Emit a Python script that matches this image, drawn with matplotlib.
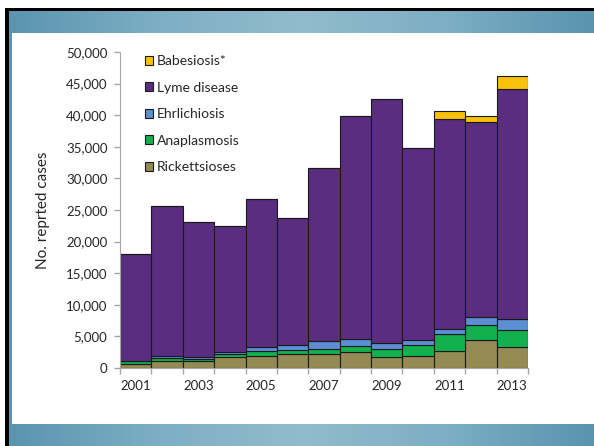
import numpy as np
import matplotlib
matplotlib.use("Agg")
from matplotlib import pyplot as plt
from matplotlib.colors import LinearSegmentedColormap
from matplotlib.patches import Rectangle

years = [2001, 2002, 2003, 2004, 2005, 2006, 2007, 2008, 2009, 2010, 2011, 2012, 2013]
year_labels = ["2001", "2003", "2005", "2007", "2009", "2011", "2013"]

rickettsioses = [700, 1100, 1100, 1700, 1950, 2250, 2200, 2500, 1700, 1950, 2750, 4500, 3350]
anaplasmosis = [350, 450, 350, 500, 800, 650, 850, 950, 1300, 1750, 2650, 2300, 2700]
ehrlichiosis = [100, 300, 300, 400, 650, 800, 1150, 1150, 950, 800, 850, 1250, 1750]
lyme = [16950, 23750, 21350, 19900, 23400, 20050, 27500, 35300, 38600, 30300, 33200, 30850, 36400]
babesiosis = [0, 0, 0, 0, 0, 0, 0, 0, 0, 0, 1250, 900, 1950]

series = [
    ("Rickettsioses", rickettsioses, "#948A54"),
    ("Anaplasmosis", anaplasmosis, "#12B04F"),
    ("Ehrlichiosis", ehrlichiosis, "#5B8ED3"),
    ("Lyme disease", lyme, "#5A2D80"),
    ("Babesiosis*", babesiosis, "#FAC10A"),
]

FONT = "Lato"
TXT = "#262626"
AXC = "#A6A6A6"


def drawBackground(fig):
    # slide frame: blue bands top/bottom, white panel, black edge
    W, H = 594, 446
    bg = fig.add_axes([0, 0, 1, 1], zorder=-10)
    bg.set_xlim(0, W)
    bg.set_ylim(H, 0)
    bg.axis("off")
    cmap = LinearSegmentedColormap.from_list(
        "band", ["#5A94AF", "#7DAEC4", "#92BBCD", "#7DAEC4", "#5A94AF"])
    grad = np.linspace(0, 1, 256).reshape(1, -1)
    bg.imshow(grad, cmap=cmap, extent=(8, W, H, 10), aspect="auto")
    bg.add_patch(Rectangle((12, 33), W - 12, 391, facecolor="white", edgecolor="none"))
    bg.add_patch(Rectangle((5, 8), W - 5, 2.5, facecolor="black", edgecolor="none"))
    bg.add_patch(Rectangle((5, 8), 3.5, H - 8, facecolor="black", edgecolor="none"))


def plotCases(output):
    fig = plt.figure(figsize=(5.94, 4.46), dpi=100)
    fig.patch.set_facecolor("white")
    drawBackground(fig)

    ax = fig.add_axes([120 / 594, 78 / 446, 408 / 594, 316 / 446])
    ax.patch.set_alpha(0)
    x = np.arange(len(years))
    bottom = np.zeros(len(years))
    handles = {}
    for name, vals, col in series:
        vals = np.array(vals, dtype=float)
        b = ax.bar(x, vals, width=1.0, bottom=bottom, color=col,
                   edgecolor="#1A1A1A", linewidth=0.8, label=name)
        handles[name] = b
        bottom += vals

    ax.set_xlim(-0.5, len(years) - 0.5)
    ax.set_ylim(0, 50000)
    ax.set_yticks(np.arange(0, 50001, 5000))
    ax.set_yticklabels([f"{v:,}" for v in range(0, 50001, 5000)],
                       fontsize=9.5, color=TXT, family=FONT)

    ax.set_xticks(np.arange(-0.5, len(years), 1))
    ax.set_xticklabels([])
    ax.set_xticks(np.arange(0, len(years), 2), minor=True)
    ax.set_xticklabels(year_labels, minor=True, fontsize=9.5, color=TXT, family=FONT)
    ax.tick_params(axis="x", which="minor", length=0, pad=9)
    ax.tick_params(axis="both", which="major", length=4, color=AXC, width=1)
    ax.tick_params(axis="y", pad=5)

    for s in ["top", "right"]:
        ax.spines[s].set_visible(False)
    for s in ["left", "bottom"]:
        ax.spines[s].set_color(AXC)

    ax.set_ylabel("No. reprted cases", fontsize=11, color=TXT, family=FONT)
    ax.yaxis.set_label_coords(-70 / 408, 0.5)

    order = ["Babesiosis*", "Lyme disease", "Ehrlichiosis", "Anaplasmosis", "Rickettsioses"]
    leg = ax.legend([handles[n] for n in order], order, loc="upper left",
                    bbox_to_anchor=(0.03, 1.03), frameon=False,
                    handlelength=0.6, handleheight=0.6, handletextpad=0.3,
                    labelspacing=1.05, prop={"family": FONT, "size": 10})
    for t in leg.get_texts():
        t.set_color(TXT)

    fig.savefig(output, dpi=100)
    plt.close(fig)


if __name__ == "__main__":
    plotCases("out.png")
